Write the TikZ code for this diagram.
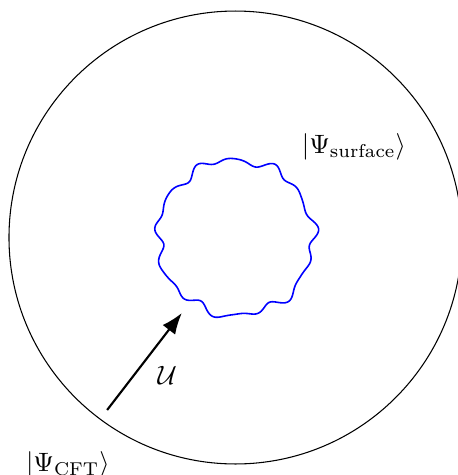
\documentclass[tikz,border=0pt]{standalone}
\usepackage{amsmath,amssymb}
\usetikzlibrary{arrows.meta,positioning}
\tikzstyle{arrow}=[-{Latex[length=2.8mm]}, thick]
\begin{document}
\begin{tikzpicture}[
  state/.style={inner sep=1pt},
  wiggle/.style={blue, semithick, smooth, samples=240, domain=0:360}]
\useasboundingbox (-3.119,-3.146) rectangle (2.947,3.146);
% boundary and bulk surface
\draw (0,0) circle (3);
\draw[wiggle] plot ({\x}:{1.03+0.04*sin(13*\x)+0.025*sin(7*\x+60)+0.015*sin(19*\x)}) -- cycle;
\node[state] (surf) at (1.57,1.2) {$|\Psi_{\text{surface}}\rangle$};
\node[state] (cft) at (-2.22,-3.01) {$|\Psi_{\text{CFT}}\rangle$};
% unitary flow
\coordinate (ustart) at (-1.70,-2.285);
\coordinate (uend) at (-0.71,-1.0);
\draw[arrow] (ustart) -- node[right=1.8mm, pos=0.36] {$\mathcal{U}$} (uend);
\end{tikzpicture}
\end{document}
